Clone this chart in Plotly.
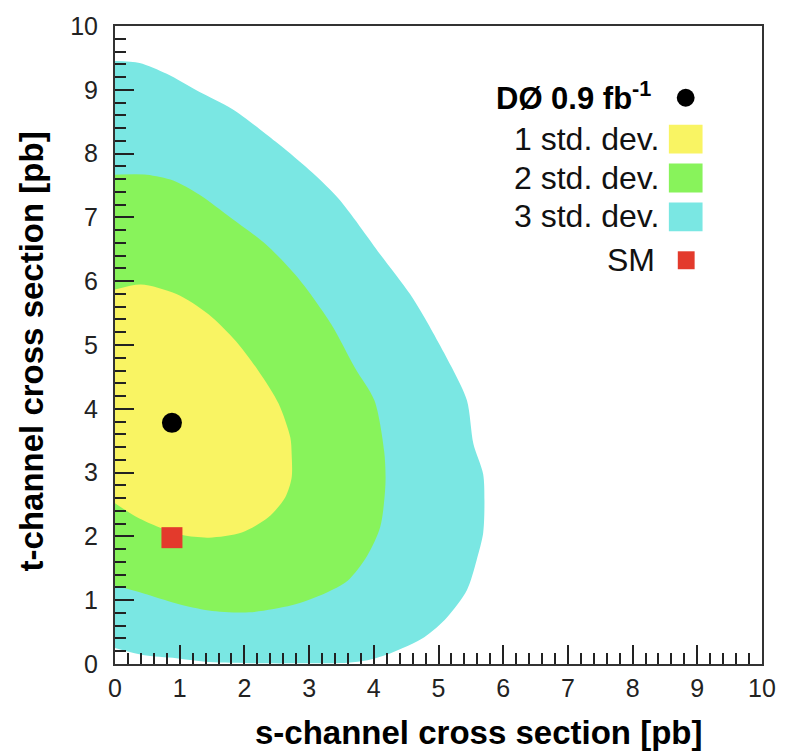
import plotly.graph_objects as go

# Confidence regions in the (s-channel, t-channel) cross-section plane [pb]
sigma3_s = [0.00, 0.43, 0.95, 1.45, 2.20, 3.00, 3.60, 3.90, 4.26, 4.78, 5.13, 5.44, 5.59,
            5.69, 5.71, 5.69, 5.54, 5.44, 5.21, 4.79, 4.56, 4.10, 3.45, 2.94, 2.48, 1.81,
            1.30, 0.80, 0.38, 0.00]
sigma3_t = [0.25, 0.14, 0.09, 0.03, 0.01, 0.01, 0.02, 0.06, 0.17, 0.42, 0.73, 1.16, 1.63,
            2.05, 2.56, 2.98, 3.45, 4.13, 4.64, 5.42, 5.80, 6.42, 7.30, 7.80, 8.19, 8.70,
            8.97, 9.25, 9.42, 9.45]

sigma2_s = [0.00, 0.43, 0.95, 1.45, 2.07, 2.73, 3.25, 3.60, 3.90, 4.10, 4.18, 4.16, 4.01,
            3.71, 3.34, 2.83, 2.33, 1.81, 1.30, 0.90, 0.49, 0.00]
sigma2_t = [1.23, 1.11, 0.95, 0.84, 0.81, 0.92, 1.11, 1.31, 1.70, 2.15, 2.83, 3.34, 4.13,
            4.64, 5.33, 6.05, 6.58, 6.98, 7.36, 7.58, 7.67, 7.67]

sigma1_s = [0.00, 0.34, 0.69, 1.04, 1.45, 1.96, 2.37, 2.63, 2.73, 2.73, 2.71, 2.53, 2.22,
            1.87, 1.45, 0.95, 0.40, 0.00]
sigma1_t = [2.52, 2.30, 2.14, 2.02, 1.98, 2.06, 2.30, 2.61, 2.92, 3.30, 3.55, 4.08, 4.59,
            5.06, 5.48, 5.80, 5.95, 5.87]

# Measurement and Standard Model prediction
measured_s, measured_t = [0.88], [3.78]
sm_s, sm_t = [0.88], [1.98]

legend_labels = ["1 std. dev.", "2 std. dev.", "3 std. dev."]

YELLOW = "#F9F463"
GREEN = "#88F35B"
CYAN = "#7AE7E3"
RED = "#E33A2C"

FONT = "Liberation Sans, Arial, Helvetica, sans-serif"

fig = go.Figure()

for xs, ys, col in [(sigma3_s, sigma3_t, CYAN),
                    (sigma2_s, sigma2_t, GREEN),
                    (sigma1_s, sigma1_t, YELLOW)]:
    fig.add_trace(go.Scatter(x=xs, y=ys, mode="lines", fill="toself",
                             fillcolor=col,
                             line=dict(width=0, color=col, shape="spline", smoothing=0.8),
                             hoverinfo="skip", showlegend=False))

fig.add_trace(go.Scatter(x=measured_s, y=measured_t, mode="markers",
                         marker=dict(size=20, color="black"),
                         showlegend=False))
fig.add_trace(go.Scatter(x=sm_s, y=sm_t, mode="markers",
                         marker=dict(size=21, color=RED, symbol="square"),
                         showlegend=False))

# Plot area geometry in pixels (for the hand-built legend)
L, R, T, B = 115, 20, 24, 88
W, H = 788, 752
PW, PH = W - L - R, H - T - B


def px(xp):
    return (xp - L) / PW


def py(yp):
    return (H - B - yp) / PH


annotations = []
shapes = []

# Legend header
annotations.append(dict(text="<b>DØ 0.9 fb<sup>-1</sup></b>", x=px(658), y=py(94),
                        xref="paper", yref="paper", xanchor="right", yanchor="middle",
                        showarrow=False, font=dict(family=FONT, size=31, color="black")))
shapes.append(dict(type="circle", xref="paper", yref="paper",
                   x0=px(682), x1=px(700), y0=py(105), y1=py(87),
                   fillcolor="black", line=dict(width=0)))

box_tops = [123, 162, 201]
for lab, top, col in zip(legend_labels, box_tops, [YELLOW, GREEN, CYAN]):
    annotations.append(dict(text=lab, x=px(666), y=py(top + 14),
                            xref="paper", yref="paper", xanchor="right", yanchor="middle",
                            showarrow=False, font=dict(family=FONT, size=32, color="#111")))
    shapes.append(dict(type="rect", xref="paper", yref="paper",
                       x0=px(674), x1=px(708), y0=py(top + 29), y1=py(top),
                       fillcolor=col, line=dict(width=0)))

annotations.append(dict(text="SM", x=px(662), y=py(259),
                        xref="paper", yref="paper", xanchor="right", yanchor="middle",
                        showarrow=False, font=dict(family=FONT, size=32, color="#111")))
shapes.append(dict(type="rect", xref="paper", yref="paper",
                   x0=px(683), x1=px(700), y0=py(268), y1=py(250),
                   fillcolor=RED, line=dict(width=0)))

# Axis titles, right-aligned as in ROOT style
annotations.append(dict(text="<b>s-channel cross section [pb]</b>", x=px(709), y=py(733),
                        xref="paper", yref="paper", xanchor="right", yanchor="middle",
                        showarrow=False, font=dict(family=FONT, size=33, color="black")))
annotations.append(dict(text="<b>t-channel cross section [pb]</b>", x=px(31), y=py(128),
                        xref="paper", yref="paper", xanchor="center", yanchor="top",
                        textangle=-90,
                        showarrow=False, font=dict(family=FONT, size=33, color="black")))

axis_common = dict(
    range=[0, 10], dtick=1, tick0=0,
    showgrid=False, zeroline=False,
    showline=True, linecolor="#333", linewidth=2, mirror=True,
    ticks="inside", ticklen=19, tickwidth=1.6, tickcolor="#222",
    minor=dict(dtick=0.2, tick0=0, ticks="inside", ticklen=11, tickwidth=1.6,
               tickcolor="#222", showgrid=False),
    tickfont=dict(family=FONT, size=25, color="#222"),
    fixedrange=True,
)

fig.update_layout(
    width=W, height=H,
    margin=dict(l=L, r=R, t=T, b=B),
    paper_bgcolor="white", plot_bgcolor="white",
    xaxis=dict(**axis_common, ticklabelstandoff=1),
    yaxis=dict(**axis_common, ticklabelstandoff=10),
    annotations=annotations,
    shapes=shapes,
    showlegend=False,
)

fig.write_html("out.html")
